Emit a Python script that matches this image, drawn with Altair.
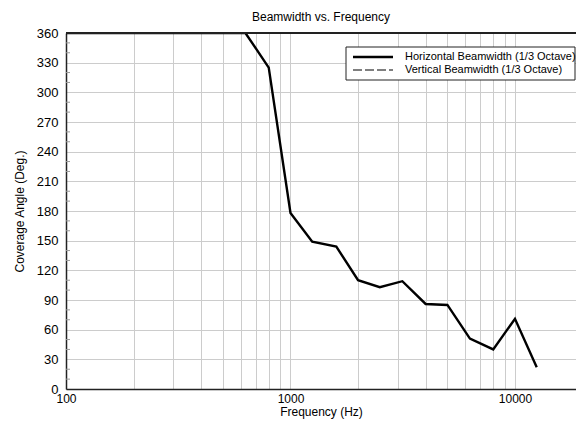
import altair as alt
import pandas as pd

# 1/3-octave frequencies (Hz)
freqs = [100, 125, 160, 200, 250, 315, 400, 500, 630, 800, 1000, 1250,
         1600, 2000, 2500, 3150, 4000, 5000, 6300, 8000, 10000, 12500]
# Horizontal beamwidth (deg)
horizontal = [360, 360, 360, 360, 360, 360, 360, 360, 360, 325, 178, 149,
              144, 110, 103, 109, 86, 85, 51, 40, 71, 22]
# Vertical beamwidth (deg) - sits on the 360 upper limit (hidden by the frame)
vertical = [360, 360, 360, 360, 360, 360, 360, 360, 360, 360, 360, 360,
            360, 360, 360, 360, 360, 360, 360, 360, 360, 360]

series_names = ["Horizontal Beamwidth (1/3 Octave)", "Vertical Beamwidth (1/3 Octave)"]

x_grid = [100, 200, 300, 400, 500, 600, 700, 800, 900,
          1000, 2000, 3000, 4000, 5000, 6000, 7000, 8000, 9000,
          10000]
x_labels = [100, 1000, 10000]
x_domain = [100, 18700]
y_ticks = [0, 30, 60, 90, 120, 150, 180, 210, 240, 270, 300, 330, 360]
y_minor = [10, 20, 40, 50, 70, 80, 100, 110, 130, 140, 160, 170, 190, 200,
           220, 230, 250, 260, 280, 290, 310, 320, 340, 350]

rows = []
for f, h in zip(freqs, horizontal):
    rows.append({"freq": f, "angle": h, "series": series_names[0]})
for f, v in zip(freqs, vertical):
    rows.append({"freq": f, "angle": v, "series": series_names[1]})
df = pd.DataFrame(rows)

FONT = "Liberation Sans"
FRAME = "#222222"
W, H = 510, 356

label_test = " || ".join(f"datum.value == {v}" for v in x_labels)

x_axis = alt.Axis(
    values=x_grid,
    labelExpr=f"({label_test}) ? format(datum.value, 'd') : ''",
    title="Frequency (Hz)",
    grid=True,
    ticks=False,
    labelFlush=False,
    labelOverlap=False,
    labelFontSize=12,
    labelPadding=4,
    titlePadding=2,
)
y_axis = alt.Axis(
    values=y_ticks,
    title="Coverage Angle (Deg.)",
    grid=True,
    ticks=False,
    labelFlush=False,
    labelOverlap=False,
    labelPadding=8,
    titlePadding=10,
)
x_scale = alt.Scale(type="log", domain=x_domain, nice=False)
y_scale = alt.Scale(domain=[0, 360], nice=False)

x_enc = alt.X("freq:Q", scale=x_scale, axis=x_axis)
y_enc = alt.Y("angle:Q", scale=y_scale, axis=y_axis)

base = alt.Chart(df)
h_line = base.transform_filter(alt.datum.series == series_names[0]).mark_line(
    color="black", strokeWidth=2.4, clip=True
).encode(x=x_enc, y=y_enc, order=alt.Order("freq:Q"))
v_line = base.transform_filter(alt.datum.series == series_names[1]).mark_line(
    color="black", strokeWidth=1.2, strokeDash=[9, 3], clip=True
).encode(x=x_enc, y=y_enc, order=alt.Order("freq:Q"))

minor_df = pd.DataFrame({"angle": y_minor})
minor = alt.Chart(minor_df).mark_rule(color="#999999", strokeWidth=1).encode(
    y=alt.Y("angle:Q", scale=y_scale, axis=y_axis),
    x=alt.value(0),
    x2=alt.value(4),
)

one = pd.DataFrame({"k": [0]})
top_frame = alt.Chart(one).mark_rule(color=FRAME, strokeWidth=2).encode(
    x=alt.value(0), x2=alt.value(W), y=alt.value(0)
)

# legend (drawn as marks, inside the plot, top right)
leg_df = pd.DataFrame({"series": series_names})
LX0, LX1, LY0, LY1 = 280, 509, 14, 47
leg_box = alt.Chart(one).mark_rect(fill="white", stroke=FRAME, strokeWidth=1).encode(
    x=alt.value(LX0), x2=alt.value(LX1), y=alt.value(LY0), y2=alt.value(LY1)
)
leg_h = alt.Chart(one).mark_rule(color="black", strokeWidth=2.6).encode(
    x=alt.value(LX0 + 7), x2=alt.value(LX0 + 47), y=alt.value(24)
)
leg_v = alt.Chart(one).mark_rule(color="black", strokeWidth=1.2, strokeDash=[9, 3]).encode(
    x=alt.value(LX0 + 7), x2=alt.value(LX0 + 47), y=alt.value(37)
)
leg_t1 = alt.Chart(leg_df).transform_filter(alt.datum.series == series_names[0]).mark_text(
    align="left", baseline="middle", font=FONT, fontSize=11, color="black"
).encode(x=alt.value(LX0 + 59), y=alt.value(24), text="series:N")
leg_t2 = alt.Chart(leg_df).transform_filter(alt.datum.series == series_names[1]).mark_text(
    align="left", baseline="middle", font=FONT, fontSize=11, color="black"
).encode(x=alt.value(LX0 + 59), y=alt.value(37), text="series:N")

chart = (
    alt.layer(minor, v_line, h_line, top_frame, leg_box, leg_h, leg_v, leg_t1, leg_t2)
    .properties(
        width=W,
        height=H,
        title=alt.TitleParams("Beamwidth vs. Frequency", fontSize=12, font=FONT,
                              fontWeight="normal", offset=3, anchor="middle",
                              color="black"),
        autosize=alt.AutoSizeParams(type="none"),
        padding={"left": 58, "top": 25, "right": 0, "bottom": 31},
    )
    .configure_view(stroke=None)
    .configure_axis(
        labelFont=FONT, titleFont=FONT, labelFontSize=13, titleFontSize=12,
        titleFontWeight="normal", labelColor="black", titleColor="black",
        gridColor="#cccccc", gridWidth=1, domain=True, domainColor=FRAME,
        domainWidth=1.5, labelOverlap=False,
    )
)

chart.save("out.html", embed_options={"renderer": "svg", "actions": False})
